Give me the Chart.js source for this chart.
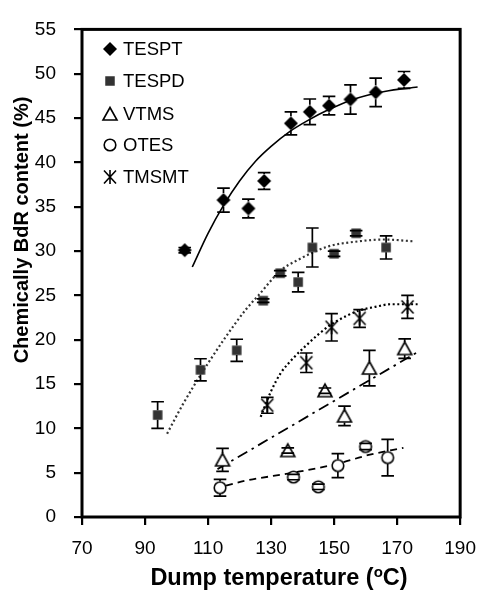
<!DOCTYPE html>
<html>
<head>
<meta charset="utf-8">
<script src="https://cdn.jsdelivr.net/npm/chart.js@4.4.0/dist/chart.umd.min.js"></script>
<style>
  html, body { margin: 0; padding: 0; background: #fff; }
  canvas { display: block; }
</style>
</head>
<body>
<canvas id="chart" width="488" height="591"></canvas>
<script>
// Axis ticks
const xTicks = [70, 90, 110, 130, 150, 170, 190];
const yTicks = [0, 5, 10, 15, 20, 25, 30, 35, 40, 45, 50, 55];

// Series labels
const seriesNames = ['TESPT', 'TESPD', 'VTMS', 'OTES', 'TMSMT'];

// TESPT: dump temperature (°C), chemically bound rubber (%), error
const tesptTemp = [102.6, 114.9, 122.8, 127.8, 136.3, 142.3, 148.4, 155.2, 163.2, 172.2];
const tesptBdR  = [30.1, 35.75, 34.8, 37.9, 44.4, 45.7, 46.4, 47.1, 47.9, 49.3];
const tesptErr  = [0.3, 1.35, 1.05, 0.95, 1.3, 1.45, 1.05, 1.65, 1.6, 0.95];

// TESPD
const tespdTemp = [94.0, 107.6, 119.1, 127.5, 132.9, 138.6, 143.1, 150.0, 157.0, 166.5];
const tespdBdR  = [11.5, 16.6, 18.8, 24.4, 27.5, 26.5, 30.4, 29.7, 32.0, 30.4];
const tespdErr  = [1.5, 1.25, 1.25, 0.2, 0.3, 1.1, 2.2, 0.3, 0.3, 1.3];

// VTMS
const vtmsTemp = [114.6, 135.3, 147.1, 153.3, 161.2, 172.4];
const vtmsBdR  = [6.45, 7.5, 14.25, 11.4, 16.8, 19.0];
const vtmsErr  = [1.3, 0.3, 0.3, 1.1, 2.0, 1.1];

// OTES
const otesTemp = [113.8, 137.1, 145.0, 151.2, 160.0, 167.0];
const otesBdR  = [3.3, 4.5, 3.4, 5.8, 7.95, 6.7];
const otesErr  = [0.95, 0.3, 0.3, 1.35, 0.35, 2.05];

// TMSMT
const tmsmtTemp = [128.8, 141.2, 149.2, 158.1, 173.3];
const tmsmtBdR  = [12.6, 17.4, 21.4, 22.4, 23.7];
const tmsmtErr  = [0.9, 1.1, 1.55, 1.0, 1.3];

// Trend lines
const tesptFitTemp = [105, 110, 115, 120, 125, 130, 136, 142, 148, 156, 166, 176.5];
const tesptFitBdR  = [28.2, 32.0, 35.2, 37.9, 40.1, 41.8, 43.5, 44.8, 45.9, 47.1, 48.0, 48.5];
const tespdFitTemp = [97, 102, 107.6, 115, 122, 126, 133, 138, 148, 158, 166, 175];
const tespdFitBdR  = [9.4, 12.7, 16.0, 20.0, 23.4, 25.0, 27.8, 28.9, 30.5, 31.1, 31.3, 31.1];
const vtmsFitTemp  = [113, 176];
const vtmsFitBdR   = [5.4, 18.5];
const otesFitTemp  = [112, 122, 137, 151, 161, 172];
const otesFitBdR   = [3.2, 4.1, 5.0, 6.0, 7.0, 7.8];
const tmsmtFitTemp = [126.7, 130, 133, 137, 141, 145, 149, 154, 158, 163, 168, 176.5];
const tmsmtFitBdR  = [11.3, 14.2, 16.2, 17.9, 19.3, 20.6, 21.7, 22.7, 23.3, 23.7, 24.0, 24.0];

const FONT = '"Liberation Sans", Arial, Helvetica, sans-serif';

function pts(xs, ys) { return xs.map((x, i) => ({ x: x, y: ys[i] })); }

// Marker glyphs drawn once on small canvases
function glyph(size, draw) {
  const c = document.createElement('canvas');
  c.width = size; c.height = size;
  const g = c.getContext('2d');
  g.translate(size / 2, size / 2);
  draw(g);
  return c;
}
const diamond = glyph(16, g => {
  g.beginPath(); g.moveTo(0, -7); g.lineTo(7, 0); g.lineTo(0, 7); g.lineTo(-7, 0); g.closePath();
  g.fillStyle = '#000'; g.fill();
});
const square = glyph(12, g => { g.fillStyle = '#333'; g.fillRect(-4.75, -4.75, 9.5, 9.5); });
const triangle = glyph(18, g => {
  g.beginPath(); g.moveTo(0, -6.5); g.lineTo(7, 6); g.lineTo(-7, 6); g.closePath();
  g.fillStyle = '#fff'; g.fill(); g.lineWidth = 1.6; g.strokeStyle = '#000'; g.stroke();
});
const circle = glyph(16, g => {
  g.beginPath(); g.arc(0, 0, 5.8, 0, Math.PI * 2);
  g.fillStyle = '#fff'; g.fill(); g.lineWidth = 1.6; g.strokeStyle = '#000'; g.stroke();
});
const asterisk = glyph(18, g => {
  g.beginPath();
  g.moveTo(-6, -6.5); g.lineTo(6, 6.5);
  g.moveTo(-6, 6.5); g.lineTo(6, -6.5);
  g.moveTo(0, -7); g.lineTo(0, 7);
  g.lineWidth = 1.6; g.strokeStyle = '#000'; g.stroke();
});

const markerSets = [
  { name: seriesNames[0], xs: tesptTemp, ys: tesptBdR, errs: tesptErr, glyph: diamond,  gap: 7 },
  { name: seriesNames[1], xs: tespdTemp, ys: tespdBdR, errs: tespdErr, glyph: square,   gap: 4.75 },
  { name: seriesNames[2], xs: vtmsTemp,  ys: vtmsBdR,  errs: vtmsErr,  glyph: triangle, gap: 6.5 },
  { name: seriesNames[3], xs: otesTemp,  ys: otesBdR,  errs: otesErr,  glyph: circle,   gap: 6.2 },
  { name: seriesNames[4], xs: tmsmtTemp, ys: tmsmtBdR, errs: tmsmtErr, glyph: asterisk, gap: 0 }
];

const fitLines = [
  { xs: tesptFitTemp, ys: tesptFitBdR, dash: [],          width: 1.6, color: '#000' },
  { xs: tespdFitTemp, ys: tespdFitBdR, dash: [2, 2.6],    width: 2.2, color: '#333' },
  { xs: vtmsFitTemp,  ys: vtmsFitBdR,  dash: [11, 5, 2.5, 5], width: 1.8, color: '#000' },
  { xs: otesFitTemp,  ys: otesFitBdR,  dash: [7, 5],      width: 1.8, color: '#000' },
  { xs: tmsmtFitTemp, ys: tmsmtFitBdR, dash: [2, 2.6],    width: 2.2, color: '#000' }
];

const datasets = [];
markerSets.forEach(m => datasets.push({
  label: m.name,
  data: pts(m.xs, m.ys),
  showLine: false,
  pointStyle: m.glyph,
  pointRadius: 7,
  pointHoverRadius: 7
}));
fitLines.forEach(f => datasets.push({
  label: '',
  data: pts(f.xs, f.ys),
  showLine: true,
  pointRadius: 0,
  borderColor: f.color,
  borderWidth: f.width,
  borderDash: f.dash,
  cubicInterpolationMode: 'monotone',
  fill: false
}));

// Error bars with caps, drawn through the scales
const errorBars = {
  id: 'errorBars',
  afterDatasetsDraw(chart) {
    const ctx = chart.ctx, xs = chart.scales.x, ys = chart.scales.y;
    ctx.save();
    ctx.strokeStyle = '#000';
    ctx.lineWidth = 1.7;
    markerSets.forEach(m => {
      m.xs.forEach((t, i) => {
        const px = xs.getPixelForValue(t);
        const py = ys.getPixelForValue(m.ys[i]);
        const top = ys.getPixelForValue(m.ys[i] + m.errs[i]);
        const bot = ys.getPixelForValue(m.ys[i] - m.errs[i]);
        ctx.beginPath();
        if (py - top > m.gap) { ctx.moveTo(px, top); ctx.lineTo(px, py - m.gap); }
        if (bot - py > m.gap) { ctx.moveTo(px, py + m.gap); ctx.lineTo(px, bot); }
        ctx.moveTo(px - 6.3, top); ctx.lineTo(px + 6.3, top);
        ctx.moveTo(px - 6.3, bot); ctx.lineTo(px + 6.3, bot);
        ctx.stroke();
      });
    });
    ctx.restore();
  }
};

// Plot frame, axis titles and the legend block
const decorations = {
  id: 'decorations',
  afterDraw(chart) {
    const ctx = chart.ctx, a = chart.chartArea;
    ctx.save();
    ctx.strokeStyle = '#000';
    ctx.lineWidth = 3;
    ctx.strokeRect(a.left, a.top, a.right - a.left, a.bottom - a.top);

    // Legend
    const rows = [48, 80, 113, 144, 176];
    ctx.font = '18.5px ' + FONT;
    ctx.fillStyle = '#000';
    ctx.textAlign = 'left';
    ctx.textBaseline = 'alphabetic';
    markerSets.forEach((m, i) => {
      const g = m.glyph;
      ctx.drawImage(g, 110 - g.width / 2, rows[i] + 1 - g.height / 2);
      ctx.fillText(m.name, 123, rows[i] + 6.7);
    });

    // X title with superscript degree
    const mainFont = 'bold 23.5px ' + FONT;
    const supFont = 'bold 15px ' + FONT;
    const p1 = 'Dump temperature (', p3 = 'C)';
    ctx.font = mainFont;
    const w1 = ctx.measureText(p1).width;
    const w3 = ctx.measureText(p3).width;
    ctx.font = supFont;
    const w2 = ctx.measureText('o').width;
    const total = w1 + w2 + w3;
    let x = 279 - total / 2;
    const base = 585;
    ctx.font = mainFont;
    ctx.fillText(p1, x, base); x += w1;
    ctx.font = supFont;
    ctx.fillText('o', x, base - 8.5); x += w2;
    ctx.font = mainFont;
    ctx.fillText(p3, x, base);

    // Y title
    ctx.translate(27.5, 230);
    ctx.rotate(-Math.PI / 2);
    ctx.font = 'bold 20px ' + FONT;
    ctx.textAlign = 'center';
    ctx.fillText('Chemically BdR content (%)', 0, 0);
    ctx.restore();
  }
};

new Chart(document.getElementById('chart'), {
  type: 'scatter',
  data: { datasets: datasets },
  plugins: [errorBars, decorations],
  options: {
    responsive: false,
    devicePixelRatio: 1,
    animation: false,
    events: [],
    layout: { padding: { left: 0, top: 24, right: 19, bottom: 0 } },
    plugins: { legend: { display: false }, tooltip: { enabled: false } },
    scales: {
      x: {
        type: 'linear',
        min: xTicks[0], max: xTicks[xTicks.length - 1],
        afterBuildTicks: s => { s.ticks = xTicks.map(v => ({ value: v })); },
        afterFit: s => { s.height = 74; },
        border: { display: false },
        grid: { drawOnChartArea: false, drawTicks: true, tickLength: 8, color: '#000', lineWidth: 2.2 },
        ticks: { color: '#000', font: { family: FONT, size: 19 }, padding: 12, maxRotation: 0 }
      },
      y: {
        type: 'linear',
        min: yTicks[0], max: yTicks[yTicks.length - 1],
        afterBuildTicks: s => { s.ticks = yTicks.map(v => ({ value: v })); },
        afterFit: s => { s.width = 82; },
        border: { display: false },
        grid: { drawOnChartArea: false, drawTicks: true, tickLength: 8, color: '#000', lineWidth: 2.2 },
        ticks: { color: '#000', font: { family: FONT, size: 19 }, padding: 18 }
      }
    }
  }
});
</script>
</body>
</html>
